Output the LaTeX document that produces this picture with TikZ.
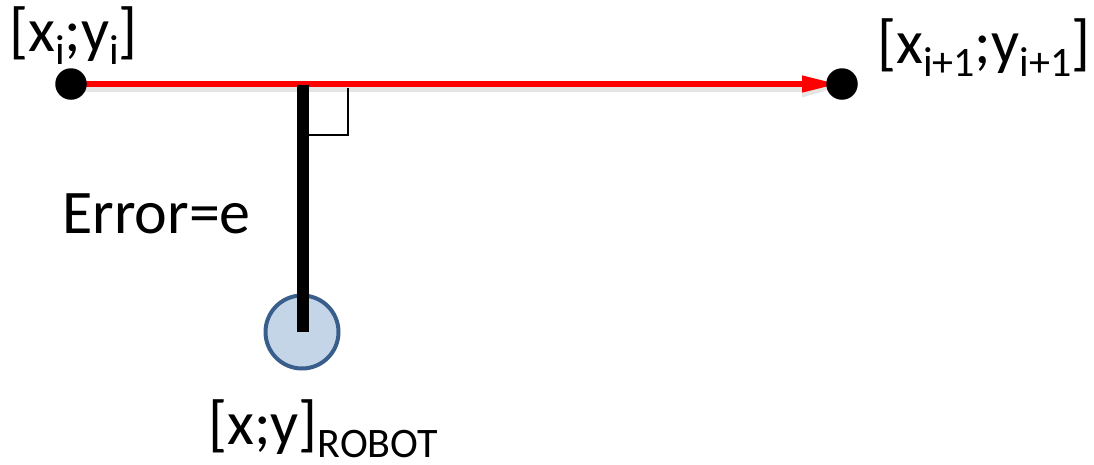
\documentclass[tikz,border=0pt]{standalone}
\usepackage{fontspec}
\setmainfont{Carlito}
\usetikzlibrary{arrows.meta}

\definecolor{pathred}{RGB}{255,0,0}
\definecolor{robotedge}{RGB}{58,94,140}
\definecolor{robotfill}{RGB}{197,213,232}

% lowered, smaller text for point indices
\newcommand{\lowsub}[1]{\raisebox{-13pt}{\fontsize{42}{44}\selectfont #1}}

\tikzset{
  label text/.style={anchor=base west, inner sep=0pt, font=\fontsize{62}{70}\selectfont},
  waypoint/.style={circle, fill=black, inner sep=0pt, minimum size=31.5pt},
  robot/.style={circle, draw=robotedge, fill=robotfill, line width=4pt, inner sep=0pt, minimum size=73pt},
  path arrow/.style={draw=pathred, line width=6.7pt, -{Triangle[length=38pt,width=15pt]}},
  path shadow/.style={draw=black, opacity=0.10, line width=8pt, -{Triangle[length=38pt,width=16pt]}},
  error bar/.style={draw=black, line width=12pt},
  square mark/.style={draw=black, line width=2pt}
}

\begin{document}
\begin{tikzpicture}[x=1pt, y=-1pt]
  \useasboundingbox (0,0) rectangle (1094,464);

  % waypoints and foot of the perpendicular
  \coordinate (p1) at (71,84);
  \coordinate (p2) at (842,84);
  \coordinate (foot) at (303,85);
  \coordinate (corner) at (348,135);

  % robot
  \node[robot] (rob) at (302,332) {};

  % soft shadow under the path segment
  \draw[path shadow, shorten >=2pt] ([yshift=-4pt]p1) -- ([yshift=-4pt]p2);
  % path segment between the waypoints
  \draw[path arrow, shorten >=2pt] (p1) -- (p2);

  % perpendicular error from the segment to the robot
  \draw[error bar] (foot) -- (foot |- rob.center);

  % right-angle mark
  \draw[square mark] (corner |- foot) ++(0,3) -- (corner) -- (corner -| foot) -- ++(6,0);

  % waypoint dots
  \node[waypoint] (d1) at (p1) {};
  \node[waypoint] (d2) at (p2) {};

  % labels
  \node[label text] (l1) at (9,51) {[x\lowsub{i};y\lowsub{i}]};
  \node[label text] (l2) at (877,63) {[x\lowsub{i+1};y\lowsub{i+1}]};
  \node[label text] (err) at (62,233) {Error=e};
  \node[label text] (lr) at (208,444) {[x;y]\lowsub{ROBOT}};
\end{tikzpicture}
\end{document}
